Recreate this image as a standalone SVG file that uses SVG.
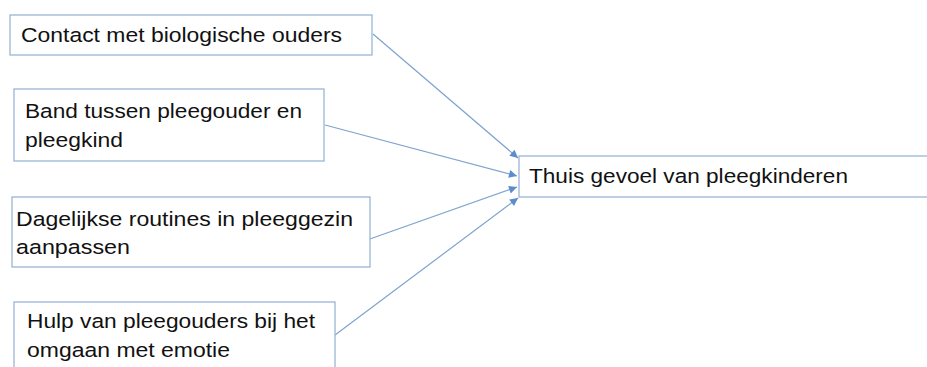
<svg xmlns="http://www.w3.org/2000/svg" width="927" height="367" viewBox="0 0 927 367">
<style>
.box{fill:#fff;stroke:#9ab5d4;stroke-width:1.3}
.t{font-family:"Liberation Sans",Arial,sans-serif;font-size:20.5px;fill:#111}
.c{stroke:#7fa3cf;stroke-width:1.2;fill:none;marker-end:url(#ah)}
</style>
<defs>
<marker id="ah" viewBox="0 0 10 10" refX="10" refY="5" markerWidth="9" markerHeight="8" markerUnits="userSpaceOnUse" orient="auto">
<path d="M0,0 L10,5 L0,10 z" fill="#5b8ccc"/>
</marker>
</defs>
<rect width="927" height="367" fill="#fff"/>
<g id="connectors">
<line class="c" x1="373" y1="34" x2="518" y2="158"/>
<line class="c" x1="325" y1="125" x2="517" y2="176"/>
<line class="c" x1="367" y1="240" x2="517" y2="187"/>
<line class="c" x1="335" y1="335" x2="518" y2="198"/>
</g>
<g id="n1">
<rect class="box" x="10" y="15" width="362" height="40"/>
<text class="t" x="21" y="42" textLength="321" lengthAdjust="spacingAndGlyphs">Contact met biologische ouders</text>
</g>
<g id="n2">
<rect class="box" x="14" y="89" width="310" height="72"/>
<text class="t" x="25" y="118" textLength="277" lengthAdjust="spacingAndGlyphs">Band tussen pleegouder en</text>
<text class="t" x="25" y="147" textLength="98" lengthAdjust="spacingAndGlyphs">pleegkind</text>
</g>
<g id="n3">
<rect class="box" x="12" y="197" width="358" height="70"/>
<text class="t" x="16" y="226" textLength="337" lengthAdjust="spacingAndGlyphs">Dagelijkse routines in pleeggezin</text>
<text class="t" x="16" y="254" textLength="114" lengthAdjust="spacingAndGlyphs">aanpassen</text>
</g>
<g id="n4">
<rect class="box" x="14" y="302" width="321" height="80"/>
<text class="t" x="27" y="328" textLength="288" lengthAdjust="spacingAndGlyphs">Hulp van pleegouders bij het</text>
<text class="t" x="27" y="357" textLength="203" lengthAdjust="spacingAndGlyphs">omgaan met emotie</text>
</g>
<g id="target">
<rect class="box" x="519" y="156" width="420" height="41"/>
<text class="t" x="529" y="183" textLength="319" lengthAdjust="spacingAndGlyphs">Thuis gevoel van pleegkinderen</text>
</g>
</svg>
